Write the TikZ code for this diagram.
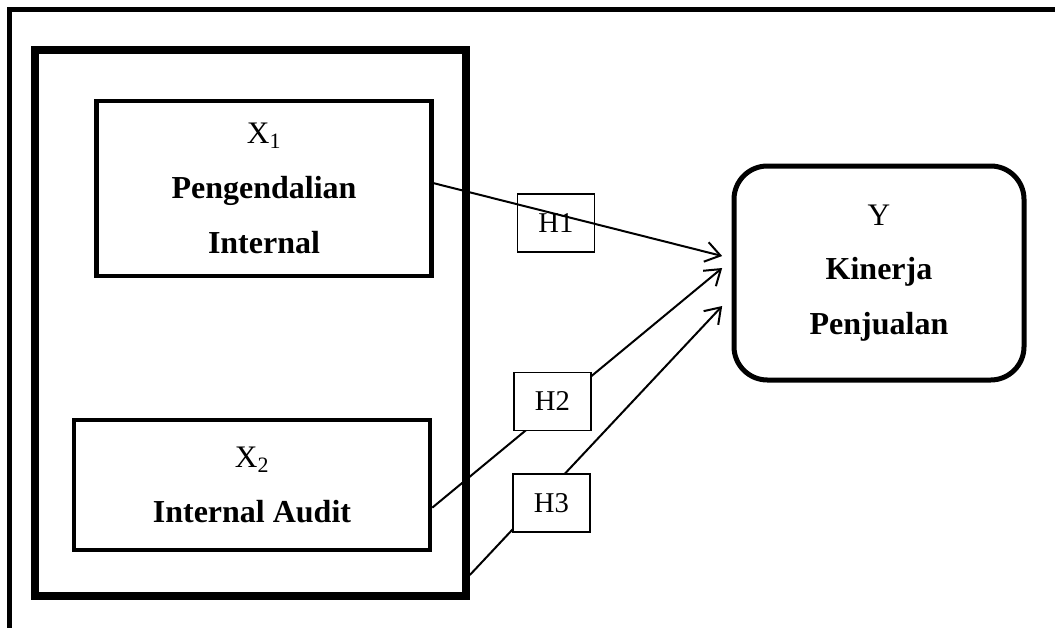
\documentclass[tikz,border=0pt]{standalone}
\usepackage{fontspec}
\setmainfont{Liberation Serif}
\usetikzlibrary{arrows.meta}
\newcommand{\varsym}[1]{{\mdseries\fontsize{23.5}{41}\selectfont #1}}

\begin{document}
\begin{tikzpicture}[x=0.75pt,y=-0.75pt,
  varbox/.style={draw, line width=3.4pt, align=center, inner sep=0pt, font=\fontsize{24}{41}\selectfont\bfseries},
  hypbox/.style={draw, fill=white, line width=1pt, minimum width=57.75pt, minimum height=43.5pt, inner sep=0pt, font=\fontsize{21.5}{24}\selectfont},
  link/.style={line width=1.5pt, -{Straight Barb[length=11pt,width=15pt,line width=1.5pt]}}]
\useasboundingbox (0,0) rectangle (1055,628);
\draw[line width=3.75pt] (1055,9.5) -- (9.5,9.5) -- (9.5,628);
\node[draw, line width=6pt, minimum width=323pt, minimum height=410pt] (grp) at (250.5,323) {};
\node[varbox, minimum width=251pt, minimum height=131pt] (x1) at (264,188.5) {\varsym{X\textsubscript{1}}\\Pengendalian\\Internal};
\node[varbox, minimum width=267pt, minimum height=97.5pt] (x2) at (252,485) {\varsym{X\textsubscript{2}}\\Internal Audit};
\node[varbox, line width=3.75pt, rounded corners=25pt, minimum width=217.5pt, minimum height=160.5pt] (y) at (879,273) {\varsym{Y}\\Kinerja\\Penjualan};
% paths behind the hypothesis boxes
\draw[link] ([yshift=-17pt]x2.east) -- ([xshift=-7pt,yshift=3.75pt]y.west);
\draw[link] ([yshift=-189pt]grp.east) -- ([xshift=-7pt,yshift=-24.75pt]y.west);
\node[hypbox] (h2) at (552.5,401.5) {H2};
\node[hypbox] (h3) at (551.5,503) {H3};
\node[hypbox] (h1) at (556,223) {H1};
\draw[link] ([yshift=4pt]x1.east) -- ([xshift=-7pt,yshift=12.75pt]y.west);
\end{tikzpicture}
\end{document}
